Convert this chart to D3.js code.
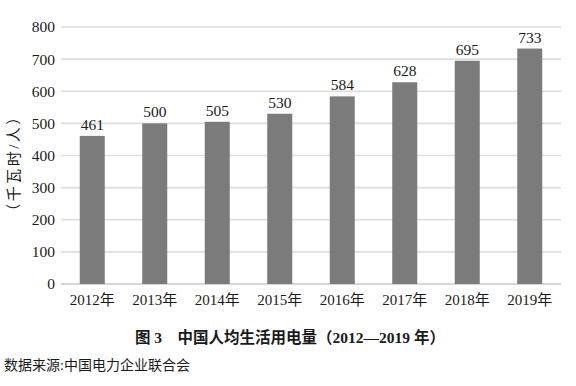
<!DOCTYPE html>
<html>
<head>
<meta charset="utf-8">
<script src="https://cdn.jsdelivr.net/npm/d3@7"></script>
<style>
  body { margin: 0; background: #fff; }
  svg text { font-family: "Liberation Serif", "Noto Sans CJK SC", serif; fill: #1a1a1a; }
</style>
</head>
<body>
<svg id="svg"></svg>
<script>
var years = ["2012年", "2013年", "2014年", "2015年", "2016年", "2017年", "2018年", "2019年"],
	values = [461, 500, 505, 530, 584, 628, 695, 733],
	yTicks = [0, 100, 200, 300, 400, 500, 600, 700, 800];

var width = 576,
	height = 386,
	plotLeft = 61,
	plotRight = 561,
	plotTop = 27,
	plotBottom = 284;

var svg = d3.select("#svg")
	.attr("width", width)
	.attr("height", height);

var x = d3.scaleBand()
	.domain(years)
	.range([plotLeft, plotRight])
	.paddingInner(0.6)
	.paddingOuter(0.3);

var y = d3.scaleLinear()
	.domain([0, 800])
	.range([plotBottom, plotTop]);

// grid
svg.append("g")
	.selectAll("line")
	.data(yTicks)
	.enter()
	.append("line")
	.attr("x1", plotLeft)
	.attr("x2", plotRight)
	.attr("y1", function(d){ return y(d); })
	.attr("y2", function(d){ return y(d); })
	.attr("stroke", function(d){ return d === 0 ? "#c8c8c8" : "#dedede"; })
	.attr("stroke-width", 1.6);

// y tick labels
svg.append("g")
	.selectAll("text")
	.data(yTicks)
	.enter()
	.append("text")
	.attr("x", 55)
	.attr("y", function(d){ return y(d); })
	.attr("dy", "0.35em")
	.attr("text-anchor", "end")
	.attr("font-size", 15.5)
	.text(function(d){ return d; });

// bars
svg.append("g")
	.selectAll("rect")
	.data(values)
	.enter()
	.append("rect")
	.attr("x", function(d, i){ return x(years[i]); })
	.attr("width", x.bandwidth())
	.attr("y", function(d){ return y(d); })
	.attr("height", function(d){ return y(0) - y(d); })
	.attr("fill", "#7b7b7b");

// value labels
svg.append("g")
	.selectAll("text")
	.data(values)
	.enter()
	.append("text")
	.attr("x", function(d, i){ return x(years[i]) + x.bandwidth() / 2; })
	.attr("y", function(d){ return y(d) - 6; })
	.attr("text-anchor", "middle")
	.attr("font-size", 15.5)
	.text(function(d){ return d; });

// x labels
svg.append("g")
	.selectAll("text")
	.data(years)
	.enter()
	.append("text")
	.attr("x", function(d){ return x(d) + x.bandwidth() / 2; })
	.attr("y", 305)
	.attr("text-anchor", "middle")
	.attr("font-size", 15)
	.text(function(d){ return d; });

// y axis title
svg.append("text")
	.attr("transform", "translate(19,163) rotate(-90)")
	.attr("text-anchor", "middle")
	.attr("font-size", 15)
	.attr("letter-spacing", 2.5)
	.attr("font-family", "Noto Sans CJK SC")
	.text("（千瓦时/人）");

// caption
svg.append("text")
	.attr("x", 290)
	.attr("y", 343)
	.attr("text-anchor", "middle")
	.attr("font-size", 15.5)
	.attr("font-weight", "bold")
	.text("图 3　中国人均生活用电量（2012—2019 年）");

svg.append("text")
	.attr("x", 4)
	.attr("y", 370)
	.attr("font-size", 14)
	.text("数据来源:中国电力企业联合会");
</script>
</body>
</html>
